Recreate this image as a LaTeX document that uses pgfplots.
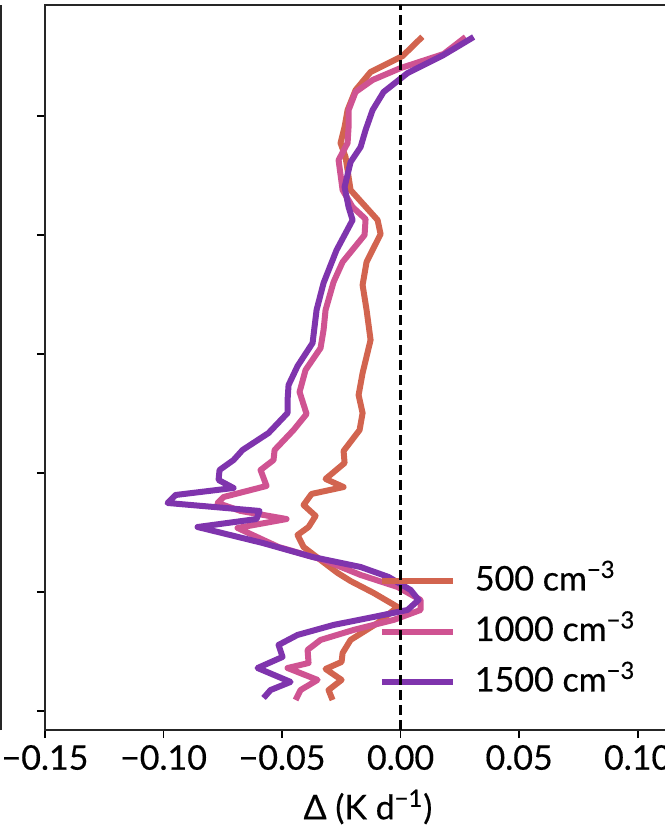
\documentclass[border=0pt]{standalone}
\usepackage{fontspec}
\setmainfont{Lato}[FakeBold=0.4]
\newfontfamily\lab{Lato}[FakeBold=0.4]
\usepackage{pgfplots}
\pgfplotsset{compat=1.18}
\definecolor{c500}{RGB}{210,100,79}
\definecolor{c1000}{RGB}{207,83,146}
\definecolor{c1500}{RGB}{127,52,173}
\begin{document}
\begin{tikzpicture}
\begin{axis}[
  at={(0,0)}, anchor=south west,
  scale only axis, width=323pt, height=362.5pt,
  xmin=-0.15, xmax=0.1225, ymin=-0.16, ymax=5.933,
  xtick={-0.15,-0.10,-0.05,0,0.05,0.10},
  xticklabels={−0.15,−0.10,−0.05,0.00,0.05,0.10},
  ytick={0,1,2,3,4,5}, yticklabels={},
  tick align=outside, major tick length=4pt,
  xtick pos=bottom, ytick pos=left,
  axis line style={black!85, line width=0.9pt},
  tick style={black, line width=0.9pt},
  ticklabel style={font=\fontsize{17}{20}\selectfont\bfseries\mdseries},
  xlabel={Δ (K d\textsuperscript{−1})},
  xlabel style={font=\fontsize{17}{20}\selectfont, yshift=-3pt},
  legend cell align=left,
  legend image code/.code={\draw[#1] (0pt,0pt) -- (35.5pt,0pt);},
  legend style={draw=none, fill=none, at={(rel axis cs:0.507,0.1352)}, anchor=west,
    font=\fontsize{17}{20}\selectfont, row sep=10.25pt, column sep=9.5pt,
    nodes={inner sep=0pt, text height=12pt, text depth=3pt}},
  every axis plot/.append style={line width=3pt, line join=round, line cap=butt},
]
\addplot[c500] coordinates {
(0.00916,5.666) (0.00084,5.504) (-0.01266,5.370) (-0.01899,5.218) (-0.02236,5.050)
(-0.02363,4.908) (-0.02532,4.773) (-0.02321,4.655) (-0.02110,4.378) (-0.00970,4.126)
(-0.00844,4.008) (-0.01435,3.773) (-0.01603,3.580) (-0.01435,3.370) (-0.01266,3.118)
(-0.01603,2.840) (-0.01772,2.655) (-0.01603,2.504) (-0.01730,2.361) (-0.02405,2.185)
(-0.02363,2.084) (-0.03165,1.950) (-0.02405,1.882) (-0.03755,1.824) (-0.04093,1.731)
(-0.03586,1.639) (-0.03882,1.546) (-0.04346,1.479) (-0.04093,1.378) (-0.03376,1.269)
(-0.02658,1.160) (-0.02110,1.092) (-0.01139,0.992) (-0.00127,0.874) (-0.00970,0.739)
(-0.02110,0.597) (-0.02447,0.487) (-0.02489,0.412) (-0.03165,0.353) (-0.02489,0.261)
(-0.03038,0.176) (-0.02869,0.092)
};
\addlegendentry{500 cm\textsuperscript{−3}}
\addplot[c1000] coordinates {
(0.02743,5.664) (0.01814,5.521) (0,5.403) (-0.01181,5.303) (-0.01899,5.202)
(-0.02194,5.050) (-0.02194,4.908) (-0.02236,4.773) (-0.02616,4.630) (-0.02447,4.378)
(-0.02025,4.235) (-0.01477,4.134) (-0.01519,4.000) (-0.02447,3.773) (-0.02827,3.605)
(-0.03165,3.370) (-0.03249,3.202) (-0.03376,3.050) (-0.04008,2.866) (-0.04262,2.681)
(-0.03966,2.496) (-0.04515,2.361) (-0.05316,2.193) (-0.05359,2.109) (-0.05907,2.025)
(-0.05654,1.891) (-0.07468,1.798) (-0.07722,1.748) (-0.06751,1.681) (-0.04810,1.613)
(-0.06878,1.538) (-0.06329,1.487) (-0.05148,1.378) (-0.03249,1.269) (-0.01688,1.143)
(-0.00127,1.042) (0.00844,0.933) (0.00844,0.849) (-0.00295,0.765) (-0.01983,0.681)
(-0.03376,0.597) (-0.03924,0.513) (-0.03882,0.403) (-0.04768,0.361) (-0.03502,0.261)
(-0.04219,0.176) (-0.04430,0.092)
};
\addlegendentry{1000 cm\textsuperscript{−3}}
\addplot[c1500] coordinates {
(0.03080,5.664) (0.01814,5.513) (0.00295,5.361) (-0.00717,5.202) (-0.01181,5.050)
(-0.01477,4.882) (-0.01688,4.739) (-0.02110,4.613) (-0.02363,4.403) (-0.02194,4.235)
(-0.02025,4.126) (-0.02700,3.874) (-0.03249,3.597) (-0.03544,3.370) (-0.03713,3.092)
(-0.04346,2.899) (-0.04726,2.739) (-0.04768,2.613) (-0.04768,2.504) (-0.05570,2.336)
(-0.06667,2.193) (-0.07046,2.109) (-0.07637,2.025) (-0.07679,1.941) (-0.07046,1.874)
(-0.09494,1.815) (-0.09831,1.748) (-0.05949,1.681) (-0.06076,1.613) (-0.08565,1.546)
(-0.05823,1.412) (-0.03713,1.294) (-0.01688,1.210) (-0.00506,1.126) (0.00422,1.017)
(0.00759,0.933) (0.00295,0.849) (-0.01139,0.790) (-0.02827,0.723) (-0.04346,0.639)
(-0.05148,0.555) (-0.04979,0.454) (-0.06034,0.361) (-0.04641,0.244) (-0.05485,0.176)
(-0.05781,0.109)
};
\addlegendentry{1500 cm\textsuperscript{−3}}
\coordinate (dtop) at (axis cs:0,5.933);
\coordinate (dbot) at (axis cs:0,-0.16);
\end{axis}
\draw[black, line width=1.2pt, dash pattern=on 5pt off 2.5pt] (dbot) -- (dtop);
\draw[black!85, line width=0.9pt] (-22pt,0pt) -- (-22pt,362.5pt);
\pgfresetboundingbox
\path[use as bounding box] (-22.5pt,-48pt) rectangle (310pt,365pt);
\end{tikzpicture}
\end{document}
